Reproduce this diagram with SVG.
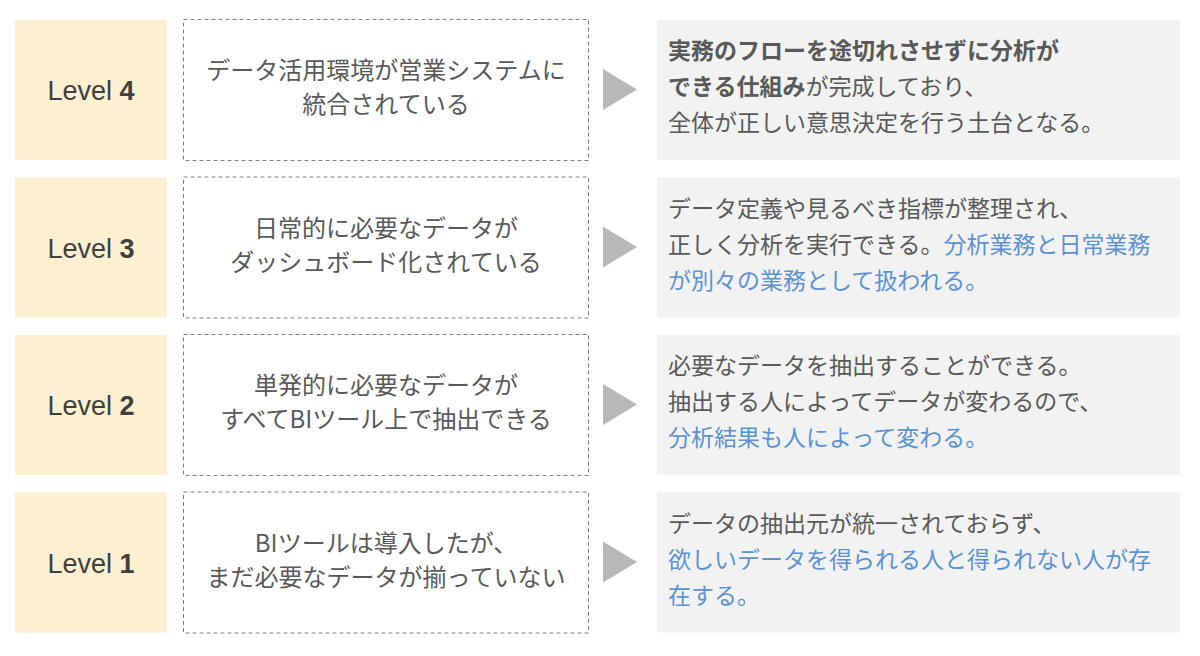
<svg xmlns="http://www.w3.org/2000/svg" width="1200" height="656" viewBox="0 0 1200 656">
<style>
.lv{fill:#FCF0D0}
.mid{fill:#FFFFFF;stroke:#808080;stroke-width:1;stroke-dasharray:4,3}
.res{fill:#F2F2F2}
.arr{fill:#B8B8B8}
.t{font-family:"Noto Sans CJK JP","Noto Sans",sans-serif;font-size:23px;fill:#595959}
.c{text-anchor:middle;font-size:24px}
.b{font-weight:bold}
.blue{fill:#5B92D3}
.lvt{font-family:"Liberation Sans","Noto Sans",sans-serif;font-size:27px;fill:#3F3F3F;text-anchor:middle}
</style>
<rect width="1200" height="656" fill="#FFFFFF"/>
<g id="connectors">
<polygon class="arr" points="603,69 637,89.5 603,110"/>
<polygon class="arr" points="603,226.5 637,247 603,267.5"/>
<polygon class="arr" points="603,384 637,404.5 603,425"/>
<polygon class="arr" points="603,541.5 637,562 603,582.5"/>
</g>
<g id="level4">
<rect class="lv" x="15" y="20" width="152" height="140"/>
<text class="lvt" x="91" y="100">Level <tspan font-weight="bold">4</tspan></text>
</g>
<g id="state4">
<rect class="mid" x="183.5" y="19.5" width="405" height="141"/>
<text class="t c" x="386" y="79">データ活用環境が営業システムに</text>
<text class="t c" x="386" y="113">統合されている</text>
</g>
<g id="result4">
<rect class="res" x="657" y="20" width="523" height="140"/>
<text class="t" x="668" y="59"><tspan class="b">実務のフローを途切れさせずに分析が</tspan></text>
<text class="t" x="668" y="95"><tspan class="b">できる仕組み</tspan>が完成しており、</text>
<text class="t" x="668" y="131">全体が正しい意思決定を行う土台となる。</text>
</g>
<g id="level3">
<rect class="lv" x="15" y="177.5" width="152" height="140"/>
<text class="lvt" x="91" y="257.5">Level <tspan font-weight="bold">3</tspan></text>
</g>
<g id="state3">
<rect class="mid" x="183.5" y="177" width="405" height="141"/>
<text class="t c" x="386" y="236.5">日常的に必要なデータが</text>
<text class="t c" x="386" y="270.5">ダッシュボード化されている</text>
</g>
<g id="result3">
<rect class="res" x="657" y="177.5" width="523" height="140"/>
<text class="t" x="668" y="216.5">データ定義や見るべき指標が整理され、</text>
<text class="t" x="668" y="252.5">正しく分析を実行できる。<tspan class="blue">分析業務と日常業務</tspan></text>
<text class="t blue" x="668" y="288.5">が別々の業務として扱われる。</text>
</g>
<g id="level2">
<rect class="lv" x="15" y="335" width="152" height="140"/>
<text class="lvt" x="91" y="415">Level <tspan font-weight="bold">2</tspan></text>
</g>
<g id="state2">
<rect class="mid" x="183.5" y="334.5" width="405" height="141"/>
<text class="t c" x="386" y="394">単発的に必要なデータが</text>
<text class="t c" x="386" y="428">すべてBIツール上で抽出できる</text>
</g>
<g id="result2">
<rect class="res" x="657" y="335" width="523" height="140"/>
<text class="t" x="668" y="374">必要なデータを抽出することができる。</text>
<text class="t" x="668" y="410">抽出する人によってデータが変わるので、</text>
<text class="t blue" x="668" y="446">分析結果も人によって変わる。</text>
</g>
<g id="level1">
<rect class="lv" x="15" y="492.5" width="152" height="140"/>
<text class="lvt" x="91" y="572.5">Level <tspan font-weight="bold">1</tspan></text>
</g>
<g id="state1">
<rect class="mid" x="183.5" y="492" width="405" height="141"/>
<text class="t c" x="386" y="551.5">BIツールは導入したが、</text>
<text class="t c" x="386" y="585.5">まだ必要なデータが揃っていない</text>
</g>
<g id="result1">
<rect class="res" x="657" y="492.5" width="523" height="140"/>
<text class="t" x="668" y="531.5">データの抽出元が統一されておらず、</text>
<text class="t blue" x="668" y="567.5">欲しいデータを得られる人と得られない人が存</text>
<text class="t blue" x="668" y="603.5">在する。</text>
</g>
</svg>
